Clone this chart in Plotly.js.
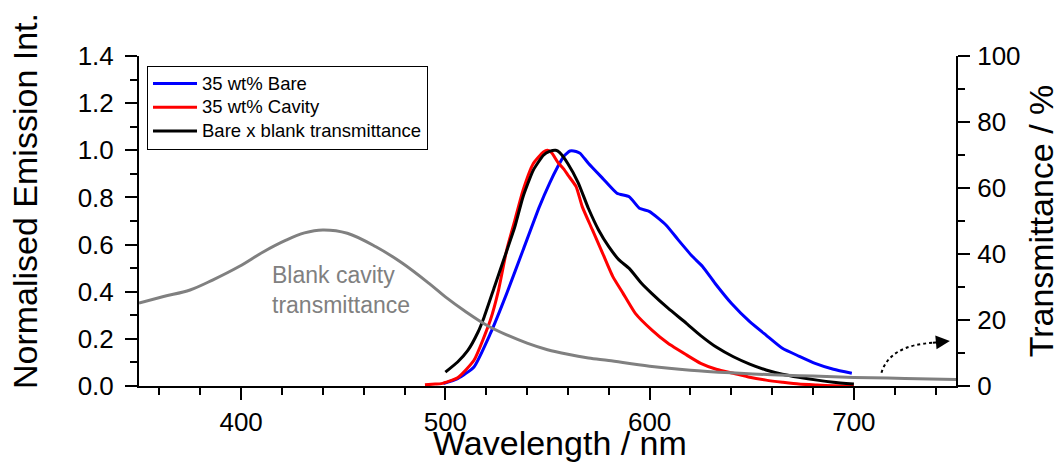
<!DOCTYPE html>
<html>
<head>
<meta charset="utf-8">
<script src="https://cdn.plot.ly/plotly-3.0.1.min.js"></script>
<style>html,body{margin:0;padding:0;background:#fff;}#chart{width:1062px;height:462px;}</style>
</head>
<body>
<div id="chart"></div>
<script>
// Blank cavity transmittance (%), right axis
const wlBlank = [350, 362, 375, 386, 399, 411, 422, 431, 440, 452, 466, 479, 492, 500, 510, 520, 530, 540, 550, 560, 570, 580, 600, 620, 640, 660, 680, 700, 725, 750];
const tBlank  = [25.1, 27.1, 29.1, 32.1, 36.2, 40.7, 44.2, 46.4, 47.3, 46.3, 42.2, 37.2, 31.1, 27.0, 22.5, 18.5, 15.5, 13.0, 11.0, 9.6, 8.5, 7.7, 6.0, 4.8, 4.0, 3.4, 3.0, 2.6, 2.3, 2.0];

// 35 wt% Bare (normalised)
const wlBare = [499, 506, 514, 522, 530, 538, 546, 551, 555, 558, 561, 564, 566, 570, 577, 584, 590, 595, 600, 608, 614, 621, 626, 632, 640, 649, 657, 665, 673, 681, 690, 699];
const bare   = [0.01, 0.031, 0.081, 0.222, 0.392, 0.576, 0.76, 0.86, 0.93, 0.975, 0.997, 0.995, 0.987, 0.945, 0.881, 0.818, 0.803, 0.754, 0.74, 0.683, 0.62, 0.549, 0.506, 0.436, 0.351, 0.273, 0.216, 0.16, 0.127, 0.096, 0.071, 0.054];

// 35 wt% Cavity (normalised)
const wlCavity = [490, 495, 498, 506, 514, 522, 526, 530, 534, 538, 543, 548, 550, 552, 555, 558, 560, 564, 567, 572, 577, 582, 587, 593, 601, 609, 618, 625, 633, 641, 649, 657, 665, 673, 682, 690, 700];
const cavity   = [0.005, 0.008, 0.01, 0.035, 0.109, 0.279, 0.406, 0.576, 0.703, 0.83, 0.943, 0.993, 1.0, 0.99, 0.95, 0.92, 0.895, 0.846, 0.761, 0.662, 0.563, 0.464, 0.393, 0.308, 0.238, 0.181, 0.132, 0.096, 0.07, 0.054, 0.037, 0.025, 0.016, 0.008, 0.004, 0.001, 0.0];

// Bare x blank transmittance (normalised)
const wlProd = [500, 506, 511, 516, 519, 524, 529, 534, 538, 543, 548, 551, 554, 556, 560, 565, 570, 575, 580, 585, 590, 596, 601, 609, 618, 625, 633, 641, 649, 657, 665, 673, 682, 690, 700];
const prod   = [0.059, 0.102, 0.151, 0.229, 0.293, 0.42, 0.547, 0.675, 0.802, 0.915, 0.979, 0.995, 1.0, 0.99, 0.943, 0.863, 0.754, 0.662, 0.591, 0.535, 0.499, 0.436, 0.393, 0.33, 0.266, 0.214, 0.163, 0.124, 0.093, 0.068, 0.05, 0.037, 0.025, 0.016, 0.008];

const seriesNames = ['35 wt% Bare', '35 wt% Cavity', 'Bare x blank transmittance'];
const blankLabel = 'Blank cavity<br>transmittance';
const xTitle = 'Wavelength / nm';
const yTitle = 'Normalised Emission Int.';
const y2Title = 'Transmittance / %';

const FONT = 'Liberation Sans, Arial, Helvetica, sans-serif';
const legName = s => '<span style="font-size:18.5px">' + s + '</span>';

const traces = [
  {x: wlBlank, y: tBlank, yaxis: 'y2', type: 'scatter', mode: 'lines', line: {color: '#808080', width: 3, shape: 'spline', smoothing: 1}, showlegend: false, hoverinfo: 'skip'},
  {x: wlBare, y: bare, name: legName(seriesNames[0]), type: 'scatter', mode: 'lines', line: {color: '#0000ff', width: 3, shape: 'spline', smoothing: 0.5}},
  {x: wlCavity, y: cavity, name: legName(seriesNames[1]), type: 'scatter', mode: 'lines', line: {color: '#ff0000', width: 3, shape: 'spline', smoothing: 0.5}},
  {x: wlProd, y: prod, name: legName(seriesNames[2]), type: 'scatter', mode: 'lines', line: {color: '#000000', width: 3, shape: 'spline', smoothing: 0.5}}
];

const axLine = {showline: true, linewidth: 2, linecolor: '#000', showgrid: false, zeroline: false, tickcolor: '#000', tickwidth: 2};

const layout = {
  width: 1062, height: 462,
  margin: {l: 139, r: 106, t: 56, b: 76, pad: 0},
  paper_bgcolor: '#fff', plot_bgcolor: '#fff',
  font: {family: FONT, color: '#000', size: 26},
  showlegend: true,
  legend: {x: 0.0098, y: 0.9712, xanchor: 'left', yanchor: 'top', bordercolor: '#000', borderwidth: 1, bgcolor: '#fff', font: {family: FONT, size: 16, color: '#000'}, itemwidth: 44, tracegroupgap: 0},
  xaxis: Object.assign({}, axLine, {
    range: [350, 750], tick0: 0, dtick: 100, ticks: 'outside', ticklen: 12,
    tickfont: {family: FONT, size: 26}, ticklabelstandoff: 0,
    minor: {dtick: 20, tick0: 0, ticks: 'outside', ticklen: 7, tickwidth: 2, tickcolor: '#000', showgrid: false}
  }),
  xaxis2: Object.assign({}, axLine, {
    overlaying: 'x', side: 'top', anchor: 'y', range: [350, 750], tick0: 0, dtick: 100,
    ticks: 'inside', ticklen: 12, showticklabels: false,
    minor: {dtick: 20, tick0: 0, ticks: 'inside', ticklen: 7, tickwidth: 2, tickcolor: '#000', showgrid: false}
  }),
  yaxis: Object.assign({}, axLine, {
    range: [0, 1.4], tick0: 0, dtick: 0.2, tickformat: '.1f', ticks: 'outside', ticklen: 12,
    tickfont: {family: FONT, size: 26}, ticklabelstandoff: 6,
    minor: {dtick: 0.1, tick0: 0, ticks: 'outside', ticklen: 7, tickwidth: 2, tickcolor: '#000', showgrid: false}
  }),
  yaxis2: Object.assign({}, axLine, {
    overlaying: 'y', side: 'right', anchor: 'x', range: [0, 100], tick0: 0, dtick: 20, ticks: 'outside', ticklen: 12,
    tickfont: {family: FONT, size: 26}, ticklabelstandoff: 2,
    minor: {dtick: 10, tick0: 0, ticks: 'outside', ticklen: 7, tickwidth: 2, tickcolor: '#000', showgrid: false},
    title: {text: y2Title, font: {family: FONT, size: 34}, standoff: 10}
  }),
  annotations: [
    {x: 0.5159, y: -0.1721, xref: 'paper', yref: 'paper', text: xTitle, showarrow: false, xanchor: 'center', yanchor: 'middle', font: {family: FONT, size: 34, color: '#000'}},
    {x: -0.1389, y: 0.5591, xref: 'paper', yref: 'paper', text: yTitle, textangle: -90, showarrow: false, xanchor: 'center', yanchor: 'middle', font: {family: FONT, size: 34, color: '#000'}},
    {x: 414, y: 0.407, xref: 'x', yref: 'y', text: blankLabel, showarrow: false, xanchor: 'left', yanchor: 'middle', align: 'left', font: {family: FONT, size: 23, color: '#808080'}},
    {x: 747, y: 13.6, xref: 'x', yref: 'y2', ax: 738, ay: 13.1, axref: 'x', ayref: 'y2', text: '', showarrow: true, arrowhead: 2, arrowsize: 1.4, arrowwidth: 2, arrowcolor: '#000'}
  ],
  shapes: [
    {type: 'path', xref: 'x', yref: 'y2', path: 'M 713.5,4 Q 717.6,12.4 739,13.1', line: {color: '#000', width: 2, dash: 'dot'}}
  ]
};

Plotly.newPlot('chart', traces, layout, {displayModeBar: false, staticPlot: true});
</script>
</body>
</html>
